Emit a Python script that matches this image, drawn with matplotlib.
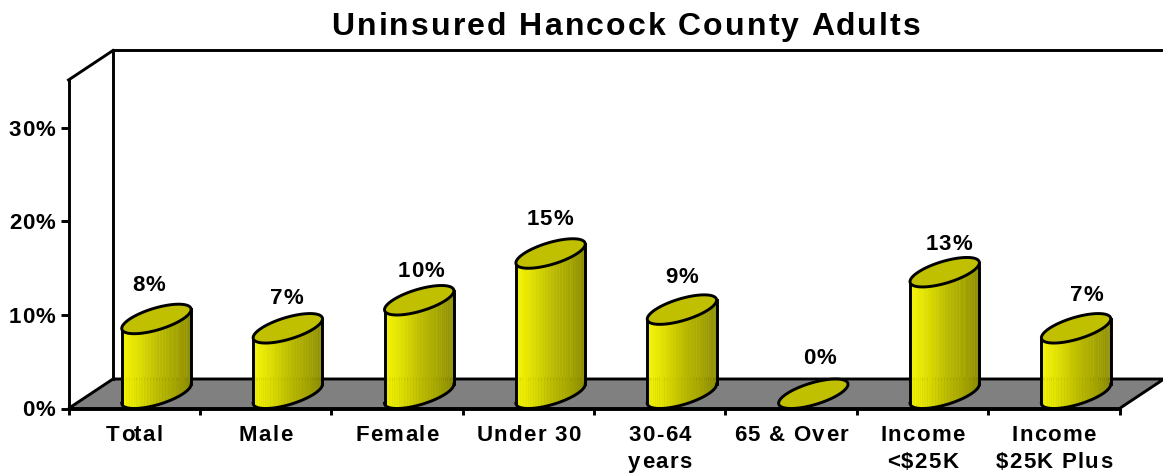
import numpy as np
import matplotlib
matplotlib.use("Agg")
import matplotlib.pyplot as plt
from matplotlib.collections import PolyCollection
from matplotlib.colors import LinearSegmentedColormap
from matplotlib.patches import Polygon
from matplotlib.text import Text

categories = ["Total", "Male", "Female", "Under 30", "30-64\nyears", "65 & Over",
              "Income\n<$25K", "Income\n$25K Plus"]
values = [8, 7, 10, 15, 9, 0, 13, 7]
value_labels = ["8%", "7%", "10%", "15%", "9%", "0%", "13%", "7%"]
y_ticks = [0, 10, 20, 30]
y_tick_labels = ["0%", "10%", "20%", "30%"]
title = "Uninsured Hancock County Adults"

# layout / style
W, H = 1163, 474
L, R, B, T = 68.5, 1119.5, 408.5, 80.0
PX_Y = 9.35
PX_X = (R - L) / 8
YMAX = (B - T) / PX_Y
DX = 44.5 / PX_X       # chart depth, data units
DY = 29.5 / PX_Y
HW = 26.6 / PX_X       # cylinder half width term
LW = 2.1
label_nudge_x = [-8, -1, 2, -1, 0, 6, 4, 11]
label_rise = [43, 39, 38, 43, 41, 44, 37, 42]
font = "Liberation Sans"

plt.rcParams["font.family"] = [font, "DejaVu Sans"]
plt.rcParams["font.weight"] = "bold"

# Letter spacing: a Text with a `tracking` attribute (pixels) keeps its one string
# but is drawn with extra space between its glyphs.
_plain_draw = Text.draw


def _tracked_draw(self, renderer):
    tracking = getattr(self, "tracking", 0)
    if not tracking or not self.get_visible() or not self.get_text():
        return _plain_draw(self, renderer)
    _, info, _ = self._get_layout(renderer)
    posx, posy = self.get_transform().transform(self.get_unitless_position())
    height = renderer.get_canvas_width_height()[1]
    fp = self.get_fontproperties()
    gc = renderer.new_gc()
    gc.set_foreground(self.get_color())
    for line, _, x, y in info:
        extra = tracking * (len(line) - 1)
        # keep the line's alignment about its anchor
        shift = {"center": -extra / 2, "right": -extra, "left": 0}[self.get_ha()]
        px, py = x + posx + shift, height - (y + posy)
        for k, ch in enumerate(line):
            adv = renderer.get_text_width_height_descent(line[:k], fp, False)[0] if k else 0
            if ch != " ":
                renderer.draw_text(gc, px + adv + k * tracking, py, ch, fp, 0, False, mtext=None)
    gc.restore()


Text.draw = _tracked_draw

fig = plt.figure(figsize=(W / 100, H / 100), dpi=100, facecolor="white")
ax = fig.add_axes([L / W, 1 - B / H, (R - L) / W, (B - T) / H])
ax.set_xlim(0, 8)
ax.set_ylim(0, YMAX)
ax.patch.set_visible(False)
for s in ("top", "right"):
    ax.spines[s].set_visible(False)
for s in ("left", "bottom"):
    ax.spines[s].set_linewidth(LW)
    ax.spines[s].set_zorder(2)

ax.set_yticks(y_ticks)
ax.set_yticklabels(y_tick_labels, fontsize=16, fontweight="bold")
ax.tick_params(axis="y", length=5.5, width=LW, pad=4)
ax.set_xticks(np.arange(9))
ax.set_xticklabels([])
ax.tick_params(axis="x", which="major", length=4.5, width=LW)
ax.set_xticks(np.arange(8) + 0.5, minor=True)
ax.set_xticklabels(categories, minor=True, fontsize=16, fontweight="bold", linespacing=1.36)
ax.tick_params(axis="x", which="minor", length=0, pad=12)
for lab in ax.get_xticklabels(minor=True):
    lab.tracking = 1.3
for lab in ax.get_yticklabels():
    lab.tracking = 1

# floor and back wall
ax.add_patch(Polygon([(0, 0), (DX, DY), (8 + DX, DY), (8, 0)], closed=True, facecolor="#808080",
                     edgecolor="black", linewidth=LW, zorder=1, clip_on=False, joinstyle="miter"))
ax.plot([DX, DX, 8 + DX], [DY, YMAX + DY, YMAX + DY], color="black", lw=LW, clip_on=False, zorder=1.5,
        solid_joinstyle="miter")
ax.plot([0, DX], [YMAX, YMAX + DY], color="black", lw=LW, clip_on=False, zorder=1.5)

shade = LinearSegmentedColormap.from_list("cyl", ["#f6f600", "#dcdc00", "#bcbc00", "#a6a600", "#8c8c00"])
BX, BY = DX / 2, DY / 2
t0 = np.arctan2(BX * PX_X, HW * PX_X)  # right-most point on the ellipse, pixel space


def ellipse(cx, cy, t):
    return cx + HW * np.cos(t) + BX * np.sin(t), cy + BY * np.sin(t)


for i, v in enumerate(values):
    cx = i + 0.5 + BX
    z = 3 + i * 0.1
    if v > 0:
        t = np.linspace(t0 + np.pi, t0 + 2 * np.pi, 37)
        xs, ybot = ellipse(cx, BY, t)
        _, ytop = ellipse(cx, v + BY, t)
        strips = [[(xs[k], ybot[k]), (xs[k + 1], ybot[k + 1]), (xs[k + 1], ytop[k + 1]), (xs[k], ytop[k])]
                  for k in range(len(xs) - 1)]
        cols = shade((xs[:-1] - xs[0]) / (xs[-1] - xs[0]))
        ax.add_collection(PolyCollection(strips, facecolors=cols, edgecolors=cols, linewidths=0.3,
                                         zorder=z, clip_on=False))
        ax.plot(xs, ybot, color="black", lw=LW, zorder=z + 0.01, clip_on=False)
        ax.plot([xs[0], xs[0]], [ybot[0], ytop[0]], color="black", lw=LW, zorder=z + 0.01, clip_on=False)
        ax.plot([xs[-1], xs[-1]], [ybot[-1], ytop[-1]], color="black", lw=LW, zorder=z + 0.01, clip_on=False)
    t = np.linspace(0, 2 * np.pi, 121)
    ex, ey = ellipse(cx, v + BY, t)
    ax.add_patch(Polygon(np.column_stack([ex, ey]), closed=True, facecolor="#c0c000", edgecolor="black",
                         linewidth=LW, zorder=z + 0.02, clip_on=False))
    ann = ax.annotate(value_labels[i], xy=(cx, v), xytext=(label_nudge_x[i], label_rise[i]),
                      textcoords="offset pixels", ha="center", va="baseline", fontsize=16,
                      fontweight="bold", zorder=10)
    ann.tracking = 1

ttl = fig.text(626 / W, 1 - 35 / H, title, ha="center", va="baseline", fontsize=23, fontweight="bold")
ttl.tracking = 2.1
fig.savefig("out.png", dpi=100)
